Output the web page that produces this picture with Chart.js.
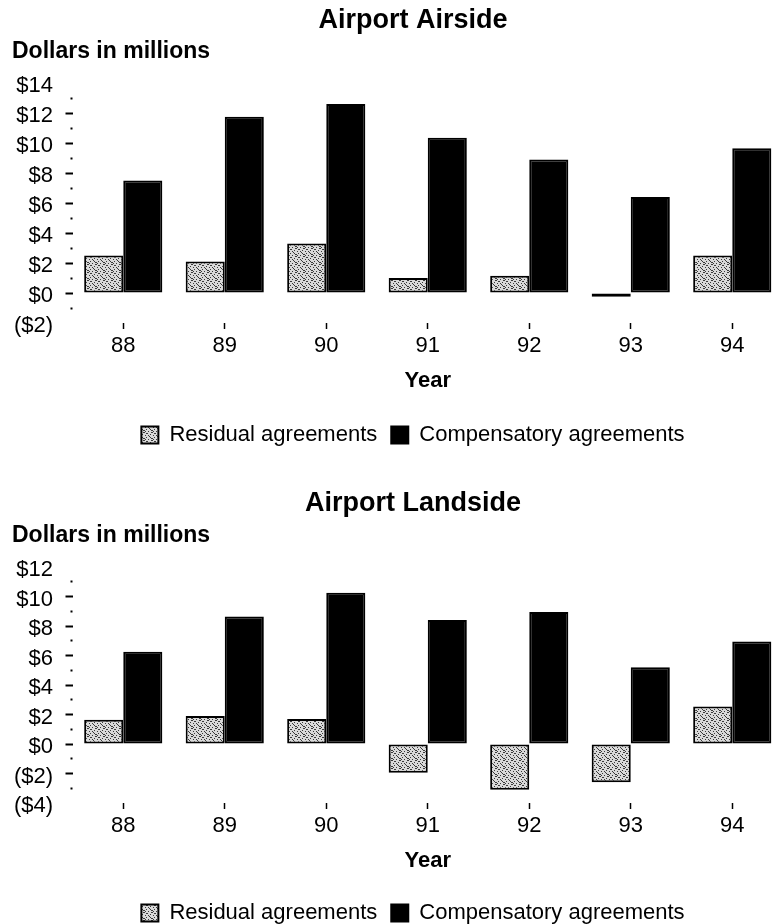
<!DOCTYPE html>
<html lang="en">
<head>
    <meta charset="UTF-8">
    <title>Airport Airside / Landside</title>
    <style>
        html, body {
            margin: 0;
            padding: 0;
            background: #fff;
            overflow: hidden;
        }
        #page {
            position: relative;
            width: 774px;
            height: 924px;
            overflow: hidden;
        }
        .panel {
            position: absolute;
            left: 0;
            width: 826px;
        }
        canvas { display: block; }
    </style>
    <script src="https://cdn.jsdelivr.net/npm/chart.js"></script>
</head>
<body>

<div id="page">
    <div class="panel" style="top:0"><canvas id="airside" width="826" height="480"></canvas></div>
    <div class="panel" style="top:480px"><canvas id="landside" width="826" height="470"></canvas></div>
</div>

<script>
    // values, dollars in millions
    const years = ['88', '89', '90', '91', '92', '93', '94'];

    const airsideResidual = [2.5, 2.1, 3.3, 1.0, 1.15, -0.25, 2.5];
    const airsideCompensatory = [7.5, 11.75, 12.6, 10.35, 8.9, 6.4, 9.65];

    const landsideResidual = [1.65, 1.9, 1.7, -1.95, -3.1, -2.6, 2.55];
    const landsideCompensatory = [6.25, 8.65, 10.25, 8.4, 8.95, 5.2, 6.95];

    const seriesNames = ['Residual agreements', 'Compensatory agreements'];

    const FONT = '"Liberation Sans", Arial, Helvetica, sans-serif';

    // speckled grey fill like the printed original
    function stipple() {
        const c = document.createElement('canvas');
        c.width = 8; c.height = 8;
        const g = c.getContext('2d');
        g.fillStyle = '#dadada';
        g.fillRect(0, 0, 8, 8);
        g.fillStyle = '#3a3a3a';
        [[0,0],[3,1],[6,2],[1,3],[5,4],[2,5],[7,6],[4,7],[2,1],[6,5],[0,6],[4,3],[7,0],[1,7]]
            .forEach(p => g.fillRect(p[0], p[1], 1, 1));
        return g.createPattern(c, 'repeat');
    }

    function money(v) {
        if (v % 2 !== 0) return '';
        return v < 0 ? '($' + (-v) + ')' : '$' + v;
    }

    // "Dollars in millions" sits above the axis, flush left
    const axisNote = {
        id: 'axisNote',
        afterDraw(chart, args, opts) {
            const ctx = chart.ctx;
            ctx.save();
            ctx.font = 'bold 23px ' + FONT;
            ctx.fillStyle = '#000';
            ctx.textAlign = 'left';
            ctx.textBaseline = 'middle';
            ctx.fillText(opts.text, opts.x, chart.chartArea.top + opts.dy);
            ctx.restore();
        }
    };

    function makeChart(id, title, residual, compensatory, yMin, yMax, titleTop, titleBottom, yearBottom, bottomPad) {
        const ctx = document.getElementById(id).getContext('2d');
        return new Chart(ctx, {
            type: 'bar',
            data: {
                labels: years,
                datasets: [{
                    label: seriesNames[0],
                    data: residual,
                    backgroundColor: stipple(),
                    borderColor: '#000',
                    borderWidth: 2,
                    borderSkipped: false,
                    categoryPercentage: 0.77,
                    barPercentage: 1.0
                }, {
                    label: seriesNames[1],
                    data: compensatory,
                    backgroundColor: '#000',
                    borderColor: '#000',
                    borderWidth: 2,
                    borderSkipped: false,
                    categoryPercentage: 0.77,
                    barPercentage: 1.0
                }]
            },
            options: {
                responsive: false,
                animation: false,
                devicePixelRatio: 1,
                layout: { padding: { left: 0, right: 0, top: 0, bottom: bottomPad } },
                scales: {
                    x: {
                        grid: {
                            offset: false,
                            drawOnChartArea: false,
                            tickLength: 6,
                            tickWidth: 1.5,
                            tickColor: '#000'
                        },
                        border: { display: false },
                        ticks: {
                            color: '#000',
                            padding: 4,
                            font: { family: FONT, size: 22 }
                        },
                        title: {
                            display: true,
                            text: 'Year',
                            color: '#000',
                            font: { family: FONT, size: 22, weight: 'bold' },
                            padding: { top: 4, bottom: yearBottom }
                        }
                    },
                    y: {
                        min: yMin,
                        max: yMax,
                        afterFit: s => { s.width = 72.5; },
                        grid: {
                            drawOnChartArea: false,
                            tickLength: 7,
                            tickWidth: 2,
                            tickColor: c => (c.tick && (c.tick.value === yMin || c.tick.value === yMax)) ? 'rgba(0,0,0,0)' : '#000',
                            tickBorderDash: c => (c.tick && c.tick.value % 2 !== 0) ? [0, 5, 2, 20] : []
                        },
                        border: { display: false },
                        ticks: {
                            stepSize: 1,
                            color: '#000',
                            padding: 12.5,
                            labelOffset: 3,
                            autoSkip: false,
                            font: { family: FONT, size: 22 },
                            callback: v => money(v)
                        }
                    },
                    // empty right-hand strip so the title and legend centre where the original has them
                    spacer: {
                        position: 'right',
                        afterFit: s => { s.width = 43; },
                        grid: { display: false },
                        border: { display: false },
                        ticks: { display: false }
                    }
                },
                plugins: {
                    title: {
                        display: true,
                        text: title,
                        color: '#000',
                        font: { family: FONT, size: 27, weight: 'bold' },
                        padding: { top: titleTop, bottom: titleBottom }
                    },
                    legend: {
                        position: 'bottom',
                        labels: {
                            color: '#000',
                            boxWidth: 17,
                            boxHeight: 17,
                            padding: 14,
                            font: { family: FONT, size: 22 }
                        }
                    },
                    tooltip: { enabled: false },
                    axisNote: { text: 'Dollars in millions', x: 12, dy: -31 }
                }
            },
            plugins: [axisNote]
        });
    }

    makeChart('airside', 'Airport Airside', airsideResidual, airsideCompensatory, -2, 14, 4, 46.6, 16.2, 24);
    makeChart('landside', 'Airport Landside', landsideResidual, landsideCompensatory, -4, 12, 7, 47.6, 14.2, 16);
</script>

</body>
</html>
